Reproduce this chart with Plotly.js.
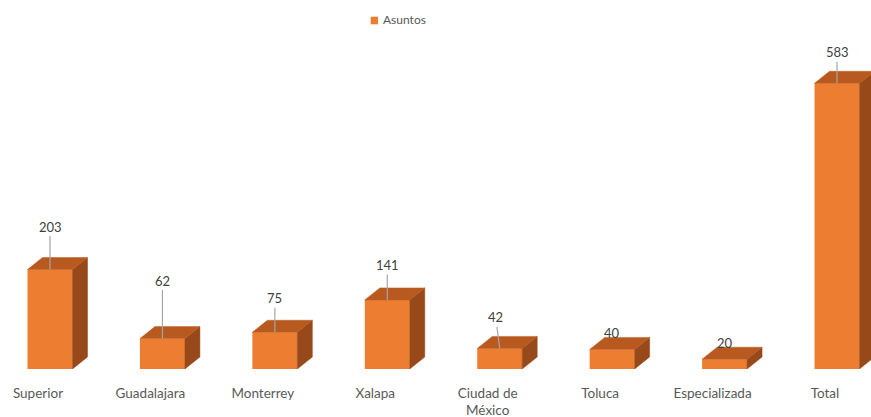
<!DOCTYPE html>
<html>
<head>
<meta charset="utf-8">
<script src="https://cdn.plot.ly/plotly-3.0.1.min.js"></script>
<style>html,body{margin:0;padding:0;background:#fff;}#chart{width:871px;height:417px;}</style>
</head>
<body>
<div id="chart"></div>
<script>
// ---- data ----
const categories = ['Superior', 'Guadalajara', 'Monterrey', 'Xalapa', 'Ciudad de<br>México', 'Toluca', 'Especializada', 'Total'];
const values = [203, 62, 75, 141, 42, 40, 20, 583];
const seriesName = 'Asuntos';

// ---- label placement (layout, pixels) ----
const labelDx = [0, 0, 0, 0, -4, 0, 0, 0];
const labelDy = [-43, -58, -34, -35, -31, -16, -16, -31];

// ---- styling ----
const FRONT = '#ED7D31', TOP = '#B85A1F', SIDE = '#97491A';
const halfW = 0.2;       // half width of front face (x units)
const depthX = 0.1335;   // 3D depth offset in x units (~15px)
const depthY = 24.5;     // 3D depth offset in y units (~12px)

const idx = categories.map((_, i) => i);

const traces = [];
traces.push({
  type: 'bar', x: idx, y: values, width: 2 * halfW,
  marker: {color: FRONT, line: {width: 0}}, showlegend: false, hoverinfo: 'skip', name: seriesName
});
idx.forEach(i => {
  const v = values[i];
  // right side face
  traces.push({
    type: 'scatter', mode: 'lines', fill: 'toself', fillcolor: SIDE,
    line: {color: SIDE, width: 0.5}, showlegend: false, hoverinfo: 'skip',
    x: [i + halfW, i + halfW + depthX, i + halfW + depthX, i + halfW, i + halfW],
    y: [0, depthY, v + depthY, v, 0]
  });
  // top face
  traces.push({
    type: 'scatter', mode: 'lines', fill: 'toself', fillcolor: TOP,
    line: {color: TOP, width: 0.5}, showlegend: false, hoverinfo: 'skip',
    x: [i - halfW, i + halfW, i + halfW + depthX, i - halfW + depthX, i - halfW],
    y: [v, v, v + depthY, v + depthY, v]
  });
});

const annotations = idx.map(i => {
  const withArrow = Math.abs(labelDy[i]) >= 20;
  const a = {
    x: i, y: values[i], xref: 'x', yref: 'y', text: String(values[i]),
    font: {family: 'Lato, "Open Sans", sans-serif', size: 13, color: '#404040'}
  };
  if (withArrow) {
    Object.assign(a, {showarrow: true, arrowhead: 0, arrowwidth: 1.2, arrowcolor: '#A6A6A6',
      ax: labelDx[i], ay: labelDy[i], standoff: 0, startstandoff: 0});
  } else {
    Object.assign(a, {showarrow: false, xshift: labelDx[i], yshift: -labelDy[i]});
  }
  return a;
});
// legend text
annotations.push({
  xref: 'paper', yref: 'paper', x: 381 / 871, y: 1 - 20 / 369, xanchor: 'left', yanchor: 'middle',
  text: seriesName, showarrow: false,
  font: {family: 'Lato, "Open Sans", sans-serif', size: 12, color: '#595959'}
});

const layout = {
  width: 871, height: 417,
  margin: {l: 0, r: 0, t: 0, b: 48, pad: 0},
  paper_bgcolor: '#ffffff', plot_bgcolor: '#ffffff',
  showlegend: false, hovermode: false,
  xaxis: {
    range: [-0.4447, 7.3024], showgrid: false, zeroline: false, showline: false, ticks: '',
    tickmode: 'array', tickvals: idx.map(i => i - 0.107), ticktext: categories,
    tickfont: {family: 'Lato, "Open Sans", sans-serif', size: 13.5, color: '#595959'},
    ticklabelstandoff: 14, fixedrange: true
  },
  yaxis: {range: [0, 753], visible: false, fixedrange: true},
  annotations: annotations,
  shapes: [{
    type: 'rect', xref: 'paper', yref: 'paper',
    x0: 370.7 / 871, x1: 378 / 871, y0: 1 - 24.3 / 369, y1: 1 - 16.7 / 369,
    fillcolor: FRONT, line: {width: 0}
  }]
};

Plotly.newPlot('chart', traces, layout, {displayModeBar: false, staticPlot: true});
</script>
</body>
</html>
